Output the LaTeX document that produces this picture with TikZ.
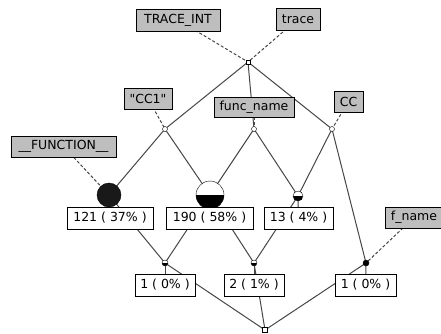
\documentclass[tikz,border=0pt]{standalone}
\usepackage{fontspec}
\newfontfamily\labelfont{DejaVu Sans}
\usetikzlibrary{backgrounds}
\definecolor{lblgray}{RGB}{190,190,190}
\definecolor{edgegray}{RGB}{70,70,70}

\begin{document}
\begin{tikzpicture}[x=1pt,y=1pt]
\tikzstyle{every node}+=[inner sep=0pt, font=\labelfont\fontsize{12.5}{14}\selectfont]
\tikzstyle{lbl}=[draw=black, fill=lblgray, minimum height=21pt]
\tikzstyle{cnt}=[draw=black, fill=white, minimum height=22pt]
\tikzstyle{pt}=[circle, draw=black, fill=white, minimum size=5pt]
\tikzstyle{half}=[circle, draw=black, fill=white, path picture={\fill [black] (path picture bounding box.west) rectangle (path picture bounding box.south east);}]
\tikzstyle{sq}=[rectangle, draw=black, fill=white, minimum size=5pt]
\tikzstyle{edge}=[edgegray, line width=1pt]
\tikzstyle{tie}=[edgegray, line width=1pt, dash pattern=on 3pt off 2pt]
\useasboundingbox (0,0) rectangle (441,-333);
\node [sq, minimum size=4pt] (top) at (248,-62) {};
\node [pt] (pc) at (165,-129) {};
\node [pt] (pf) at (254,-129) {};
\node [pt] (pk) at (332,-129) {};
\node [circle, draw=black, fill=black!90, minimum size=24pt] (r1) at (109,-195) {};
\node [half, minimum size=28pt] (r2) at (210,-195) {};
\node [half, minimum size=10pt] (r3) at (298,-196) {};
\node [half, minimum size=6pt] (s1) at (165,-263) {};
\node [half, minimum size=6pt] (s2) at (254,-263) {};
\node [circle, draw=black, fill=black, minimum size=6pt] (s3) at (366,-263) {};
\node [sq] (bot) at (265,-330) {};
\node [lbl, minimum width=84pt, minimum height=22pt] (ltraceint) at (178,-20) {TRACE\_INT};
\node [lbl, minimum width=44pt, minimum height=22pt] (ltrace) at (298,-19) {trace};
\node [lbl, minimum width=48pt] (lcc1) at (148,-98.5) {"CC1"};
\node [lbl, minimum width=80pt, minimum height=20pt] (lfunc) at (254,-107) {func\_name};
\node [lbl, minimum width=29pt] (lcc) at (348.5,-101.5) {CC};
\node [lbl, minimum width=105pt] (lfunction) at (63.5,-146.5) {\_\_FUNCTION\_\_};
\node [lbl, minimum width=58pt] (lfname) at (414,-217.5) {f\_name};
\node [cnt, minimum width=86pt] (k1) at (110,-218) {121 ( 37\% )};
\node [cnt, minimum width=87pt] (k2) at (209.5,-218) {190 ( 58\% )};
\node [cnt, minimum width=69pt] (k3) at (298.5,-218) {13 ( 4\% )};
\node [cnt, minimum width=60pt] (k4) at (165,-285) {1 ( 0\% )};
\node [cnt, minimum width=60pt] (k5) at (254,-285) {2 ( 1\% )};
\node [cnt, minimum width=61pt] (k6) at (365.5,-285) {1 ( 0\% )};
\begin{scope}[on background layer]
\draw [edge] (top.center) -- (pc.center);
\draw [edge] (top.center) -- (pf.center);
\draw [edge] (top.center) -- (pk.center);
\draw [edge] (pc.center) -- (r1.center);
\draw [edge] (pc.center) -- (r2.center);
\draw [edge] (pf.center) -- (r2.center);
\draw [edge] (pf.center) -- (r3.center);
\draw [edge] (pk.center) -- (r3.center);
\draw [edge] (pk.center) -- (s3.center);
\draw [edge] (r1.center) -- (s1.center);
\draw [edge] (r2.center) -- (s1.center);
\draw [edge] (r2.center) -- (s2.center);
\draw [edge] (r3.center) -- (s2.center);
\draw [edge] (s1.center) -- (bot.center);
\draw [edge] (s2.center) -- (bot.center);
\draw [edge] (s3.center) -- (bot.center);
\draw [edge] (r1.center) -- (k1.center);
\draw [edge] (r2.center) -- (k2.center);
\draw [edge] (r3.center) -- (k3.center);
\draw [edge] (s1.center) -- (k4.center);
\draw [edge] (s2.center) -- (k5.center);
\draw [edge] (s3.center) -- (k6.center);
\draw [tie] (ltraceint.center) -- (top.center);
\draw [tie] (ltrace.center) -- (top.center);
\draw [tie] (lcc1.center) -- (pc.center);
\draw [tie] (lfunc.center) -- (pf.center);
\draw [tie] (lcc.center) -- (pk.center);
\draw [tie] (lfunction.center) -- (r1.center);
\draw [tie] (lfname.center) -- (s3.center);
\end{scope}
\end{tikzpicture}
\end{document}
